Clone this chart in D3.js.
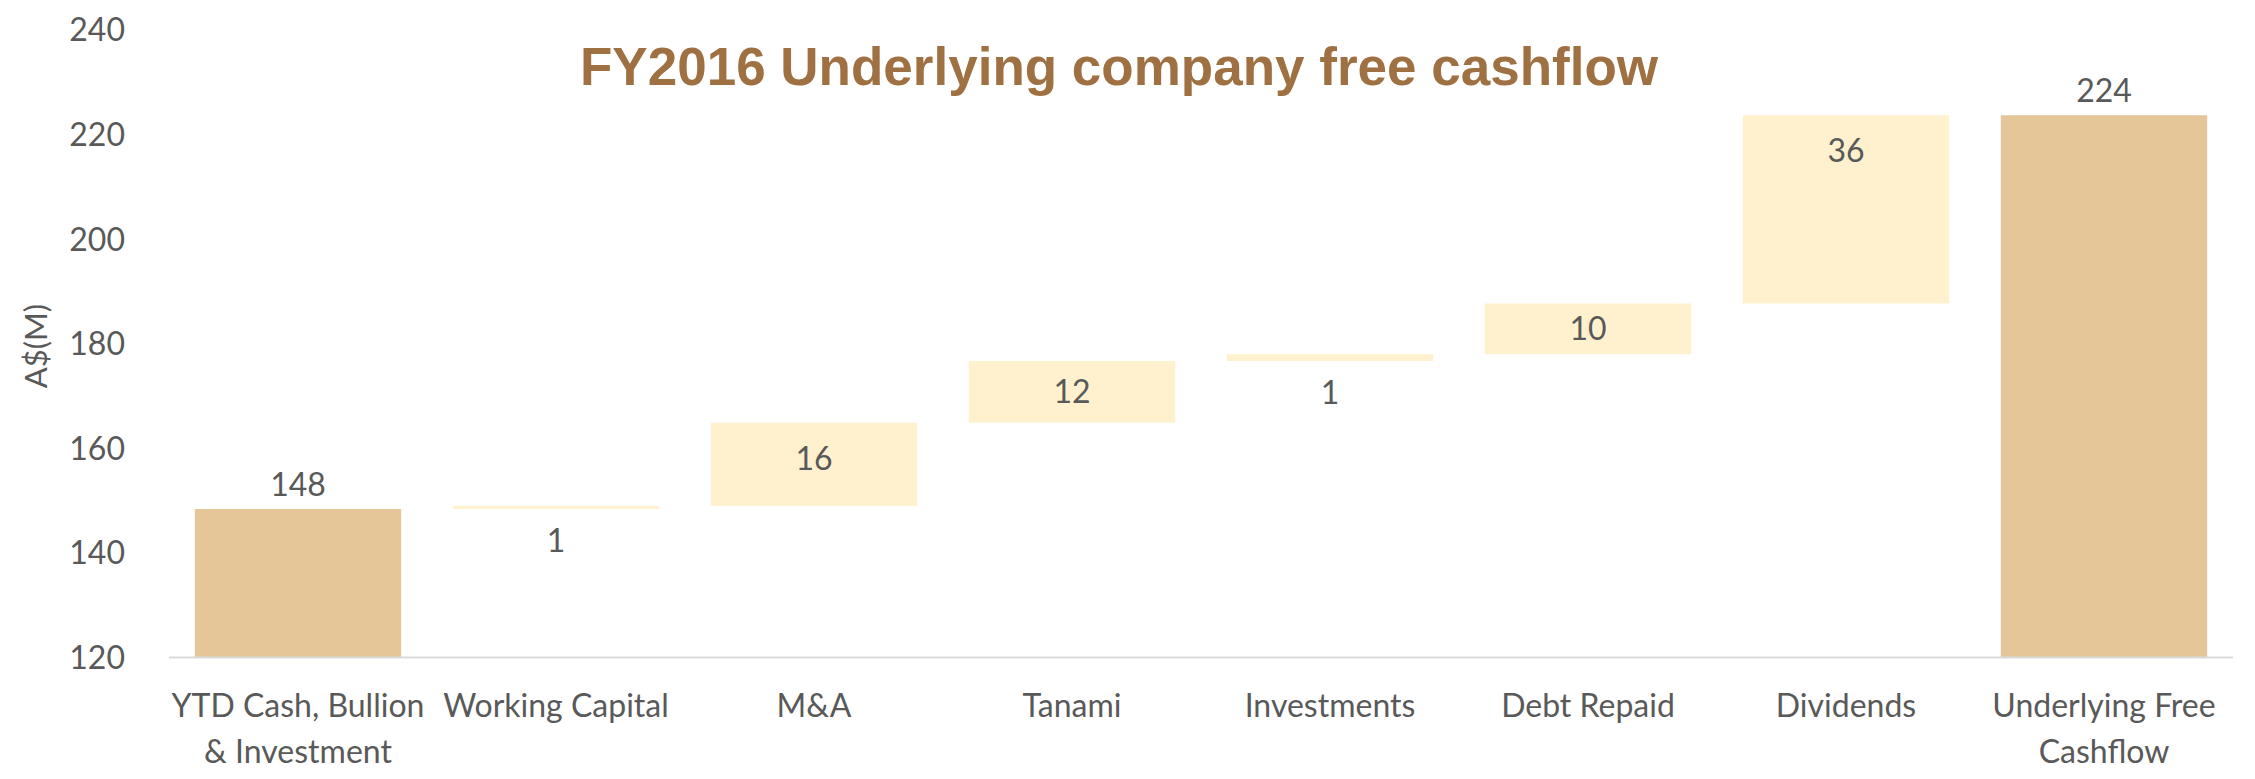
<!DOCTYPE html>
<html>
<head>
<meta charset="utf-8">
<script src="https://cdn.jsdelivr.net/npm/d3@7"></script>
<style>
  body { margin: 0; background: #fff; }
  text { font-family: Lato, "Open Sans", sans-serif; fill: #595959; }
</style>
</head>
<body>
<div id="chart-area"></div>
<script>
// data
const categories = ["YTD Cash, Bullion & Investment", "Working Capital", "M&A", "Tanami",
  "Investments", "Debt Repaid", "Dividends", "Underlying Free Cashflow"]
const categoryLines = [["YTD Cash, Bullion", "& Investment"], ["Working Capital"], ["M&A"], ["Tanami"],
  ["Investments"], ["Debt Repaid"], ["Dividends"], ["Underlying Free", "Cashflow"]]
const values = [148.4, 0.6, 15.9, 11.8, 1.3, 9.7, 36.0, 223.7]
const isTotal = [true, false, false, false, false, false, false, true]
const yTicks = [120, 140, 160, 180, 200, 220, 240]
const title = "FY2016 Underlying company free cashflow"
const yTitle = "A$(M)"

const MARGIN = { LEFT: 169, RIGHT: 22, TOP: 30, BOTTOM: 121.5 }
const WIDTH = 2255 - MARGIN.LEFT - MARGIN.RIGHT
const HEIGHT = 779 - MARGIN.TOP - MARGIN.BOTTOM

const svg = d3.select("#chart-area").append("svg")
	.attr("width", WIDTH + MARGIN.LEFT + MARGIN.RIGHT)
	.attr("height", HEIGHT + MARGIN.TOP + MARGIN.BOTTOM)

const g = svg.append("g")
	.attr("transform", `translate(${MARGIN.LEFT}, ${MARGIN.TOP})`)

// build the waterfall steps
let running = 0
const steps = categories.map((c, i) => {
	let start, end
	if (isTotal[i]) {
		start = yTicks[0]
		end = values[i]
		running = values[i]
	} else {
		start = running
		end = running + values[i]
		running = end
	}
	return { category: c, lines: categoryLines[i], value: values[i], total: isTotal[i], start, end }
})

// scales
const x = d3.scaleBand()
	.domain(categories)
	.range([0, WIDTH])
	.paddingInner(0.2)
	.paddingOuter(0.1)
const y = d3.scaleLinear()
	.domain([120, 240])
	.range([HEIGHT, 0])

// Y axis (labels only)
const yAxisCall = d3.axisLeft(y)
	.tickValues(yTicks)
	.tickSize(0)
	.tickPadding(44)
const yAxis = g.append("g")
	.attr("class", "y axis")
	.call(yAxisCall)
yAxis.select(".domain").remove()
yAxis.selectAll("text")
	.attr("font-size", "32px")
	.attr("dy", "0.34em")
	.style("font-family", "Lato, 'Open Sans', sans-serif")
	.style("fill", "#595959")

// y title
g.append("text")
	.attr("transform", "rotate(-90)")
	.attr("x", -(346 - MARGIN.TOP))
	.attr("y", 36 - MARGIN.LEFT)
	.attr("dy", "0.35em")
	.attr("font-size", "31px")
	.attr("text-anchor", "middle")
	.text(yTitle)

// bars
g.selectAll("rect.bar")
	.data(steps)
	.enter().append("rect")
	.attr("class", "bar")
	.attr("x", d => x(d.category))
	.attr("width", x.bandwidth())
	.attr("y", d => y(Math.max(d.start, d.end)))
	.attr("height", d => Math.abs(y(d.start) - y(d.end)))
	.attr("fill", d => d.total ? "#E4C699" : "#FFF1CD")

// X axis line
g.append("line")
	.attr("x1", 0)
	.attr("x2", WIDTH)
	.attr("y1", y(120))
	.attr("y2", y(120))
	.attr("stroke", "#D9D9D9")
	.attr("stroke-width", 2)

// category labels
const catLabels = g.selectAll("text.cat")
	.data(steps)
	.enter().append("text")
	.attr("class", "cat")
	.attr("x", d => x(d.category) + x.bandwidth() / 2)
	.attr("y", HEIGHT + 59)
	.attr("font-size", "32px")
	.attr("text-anchor", "middle")
catLabels.selectAll("tspan")
	.data(d => d.lines.map(l => ({ l, cx: x(d.category) + x.bandwidth() / 2 })))
	.enter().append("tspan")
	.attr("x", t => t.cx)
	.attr("dy", (t, i) => i === 0 ? 0 : 46)
	.text(t => t.l)

// value labels
const fmt = d3.format(".0f")
g.selectAll("text.val")
	.data(steps)
	.enter().append("text")
	.attr("class", "val")
	.attr("x", d => x(d.category) + x.bandwidth() / 2)
	.attr("y", d => {
		const top = y(Math.max(d.start, d.end))
		const bottom = y(Math.min(d.start, d.end))
		if (d.total) return top - 13
		if (bottom - top < 30) return bottom + 32
		return Math.min(top + 36, (top + bottom) / 2)
	})
	.attr("dy", d => d.total ? 0 : "0.35em")
	.attr("font-size", "32px")
	.attr("text-anchor", "middle")
	.text(d => fmt(d.value))

// title
svg.append("text")
	.attr("x", 1119)
	.attr("y", 85)
	.attr("font-size", "53px")
	.attr("font-weight", "bold")
	.attr("text-anchor", "middle")
	.style("font-family", "'Liberation Sans', Arial, sans-serif")
	.style("fill", "#9E7042")
	.text(title)
</script>
</body>
</html>
